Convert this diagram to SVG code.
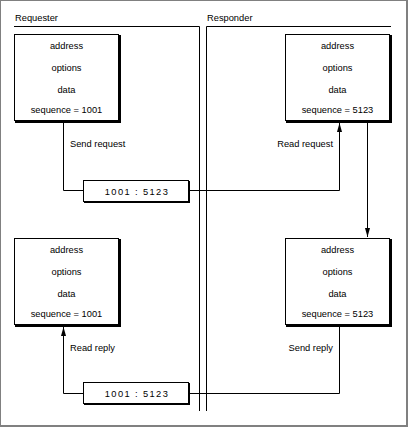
<svg xmlns="http://www.w3.org/2000/svg" width="408" height="427" viewBox="0 0 408 427">
<style>
text{font-family:"Liberation Sans",Arial,sans-serif;font-size:9.3px;fill:#000}
.c{text-anchor:middle}
.e{text-anchor:end}
.mono{letter-spacing:1.4px}
.ln{fill:none;stroke:#000;stroke-width:1}
.box{fill:#fff;stroke:#000;stroke-width:1}
.sh{fill:#000}
</style>
<defs>
<marker id="arr" markerUnits="userSpaceOnUse" markerWidth="9" markerHeight="6" refX="9" refY="3" orient="auto">
<path d="M0,0.5 L9,3 L0,5.5 Z" fill="#000"/>
</marker>
</defs>
<rect x="0" y="0" width="408" height="427" fill="#808080"/>
<rect x="1" y="1" width="405" height="424" fill="#fff"/>

<g id="lanes">
<text x="15" y="21">Requester</text>
<text x="207" y="21">Responder</text>
<path class="ln" d="M14,26.5 H199.5 M199.5,26.5 V411 M206.5,26.5 H391 M206.5,26.5 V411"/>
</g>

<g id="connectors">
<path class="ln" d="M63.5,122 V190.5 H83"/>
<path class="ln" d="M189,190.5 H339.5 V123" marker-end="url(#arr)"/>
<path class="ln" d="M367.5,122 V237" marker-end="url(#arr)"/>
<path class="ln" d="M339.5,327 V393.5 H189"/>
<path class="ln" d="M83,393.5 H63.5 V327" marker-end="url(#arr)"/>
<text x="70" y="147">Send request</text>
<text class="e" x="333" y="147">Read request</text>
<text x="70" y="351">Read reply</text>
<text class="e" x="333" y="351">Send reply</text>
</g>

<g id="req1">
<rect class="sh" x="15" y="35" width="106" height="88"/>
<rect class="box" x="14.5" y="34.5" width="104" height="86"/>
<text class="c" x="66.5" y="49">address</text>
<text class="c" x="66.5" y="71">options</text>
<text class="c" x="66.5" y="92.5">data</text>
<text class="c" x="66.5" y="113">sequence = 1001</text>
</g>

<g id="resp1">
<rect class="sh" x="286" y="35" width="106" height="88"/>
<rect class="box" x="285.5" y="34.5" width="104" height="86"/>
<text class="c" x="337.5" y="49">address</text>
<text class="c" x="337.5" y="71">options</text>
<text class="c" x="337.5" y="92.5">data</text>
<text class="c" x="337.5" y="113">sequence = 5123</text>
</g>

<g id="req2">
<rect class="sh" x="15" y="239" width="106" height="88"/>
<rect class="box" x="14.5" y="238.5" width="104" height="86"/>
<text class="c" x="66.5" y="253">address</text>
<text class="c" x="66.5" y="275">options</text>
<text class="c" x="66.5" y="296.5">data</text>
<text class="c" x="66.5" y="317">sequence = 1001</text>
</g>

<g id="resp2">
<rect class="sh" x="286" y="239" width="106" height="88"/>
<rect class="box" x="285.5" y="238.5" width="104" height="86"/>
<text class="c" x="337.5" y="253">address</text>
<text class="c" x="337.5" y="275">options</text>
<text class="c" x="337.5" y="296.5">data</text>
<text class="c" x="337.5" y="317">sequence = 5123</text>
</g>

<g id="msg1">
<rect class="sh" x="84" y="181" width="106" height="22"/>
<rect class="box" x="83.5" y="180.5" width="105" height="21"/>
<text class="c mono" x="137" y="194.5">1001 : 5123</text>
</g>

<g id="msg2">
<rect class="sh" x="84" y="383" width="106" height="22"/>
<rect class="box" x="83.5" y="382.5" width="105" height="21"/>
<text class="c mono" x="137" y="396.5">1001 : 5123</text>
</g>
</svg>
